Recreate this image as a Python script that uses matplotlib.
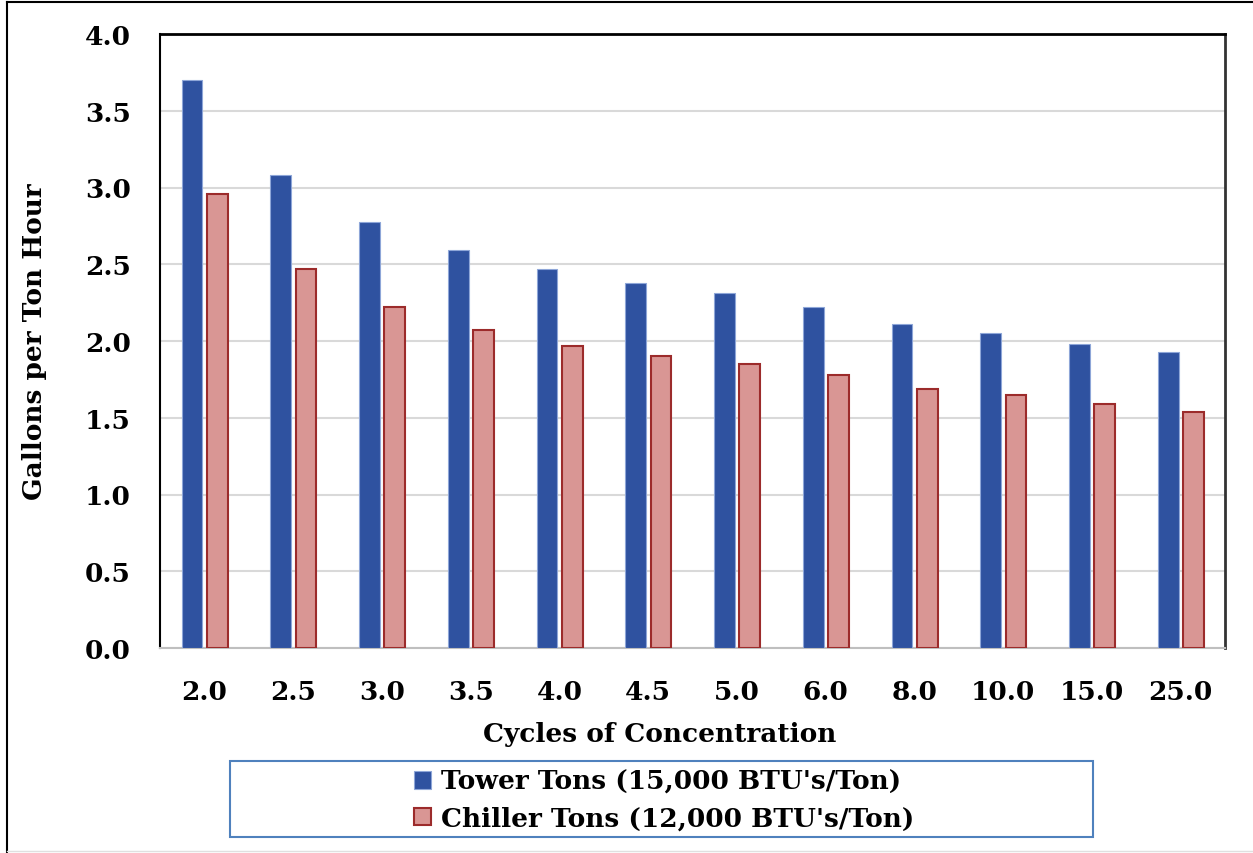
import matplotlib
matplotlib.use("Agg")
import matplotlib.pyplot as plt
import numpy as np
from matplotlib.patches import Rectangle

categories = ["2.0", "2.5", "3.0", "3.5", "4.0", "4.5", "5.0", "6.0", "8.0", "10.0", "15.0", "25.0"]
tower = [3.70, 3.08, 2.775, 2.59, 2.47, 2.38, 2.31, 2.22, 2.11, 2.05, 1.98, 1.93]
chiller = [2.96, 2.47, 2.22, 2.07, 1.97, 1.90, 1.85, 1.78, 1.69, 1.65, 1.59, 1.54]
yticks = [0.0, 0.5, 1.0, 1.5, 2.0, 2.5, 3.0, 3.5, 4.0]

FONT = "DejaVu Serif"
FS = 19

fig = plt.figure(figsize=(12.53, 8.54), dpi=100)
ax = fig.add_axes([160/1253, 1-649/854, (1225-160)/1253, (649-35)/854])

x = np.arange(len(categories))
w = 0.235
b1 = ax.bar(x - 0.14, tower, w, color="#2F52A0", edgecolor="#8EA6D8", linewidth=0.8,
            label="Tower Tons (15,000 BTU's/Ton)", zorder=3)
b2 = ax.bar(x + 0.145, chiller, w, color="#D99694", edgecolor="#9C2B2B", linewidth=1.5,
            label="Chiller Tons (12,000 BTU's/Ton)", zorder=3)

ax.set_xlim(-0.5, len(categories) - 0.5)
ax.set_ylim(0, 4.0)
ax.set_yticks(yticks)
ax.set_yticklabels([f"{v:.1f}" for v in yticks], fontfamily=FONT, fontweight="bold", fontsize=FS)
ax.set_xticks(x)
ax.set_xticklabels(categories, fontfamily=FONT, fontweight="bold", fontsize=FS)
ax.tick_params(axis="both", length=0)
ax.tick_params(axis="y", pad=21)
ax.tick_params(axis="x", pad=22)
ax.yaxis.grid(True, color="#D9D9D9", linewidth=1.5, zorder=0)
ax.set_axisbelow(True)

ax.spines["top"].set_color("black")
ax.spines["top"].set_linewidth(2)
ax.spines["left"].set_color("black")
ax.spines["left"].set_linewidth(1.5)
ax.spines["right"].set_color("#333333")
ax.spines["right"].set_linewidth(2)
ax.spines["bottom"].set_color("#BFBFBF")
ax.spines["bottom"].set_linewidth(1.5)

fig.text(35/1253, 1-342/854, "Gallons per Ton Hour", rotation=90, ha="center", va="center",
         fontfamily=FONT, fontweight="bold", fontsize=FS)
fig.text(660/1253, 1-735/854, "Cycles of Concentration", ha="center", va="center",
         fontfamily=FONT, fontweight="bold", fontsize=FS)

# legend box
fig.patches.append(Rectangle((230/1253, 1-838/854), (1093-230)/1253, 76/854,
                             transform=fig.transFigure, fill=False, edgecolor="#4F81BD",
                             linewidth=1.5))
fig.legend(handles=[b1, b2], loc="center", bbox_to_anchor=(664/1253, 1-801/854),
           frameon=False, prop={"family": FONT, "weight": "bold", "size": FS},
           handlelength=0.65, handleheight=0.65, handletextpad=0.35, labelspacing=0.45,
           borderpad=0)

# outer border
fig.add_artist(plt.Line2D([7/1253, 7/1253], [0, 1-3/854], transform=fig.transFigure, color="black", linewidth=1.5))
fig.add_artist(plt.Line2D([7/1253, 1], [1-3/854, 1-3/854], transform=fig.transFigure, color="black", linewidth=1.5))
fig.add_artist(plt.Line2D([7/1253, 1], [2/854, 2/854], transform=fig.transFigure, color="#E0E0E0", linewidth=1))

fig.savefig("out.png", dpi=100)
